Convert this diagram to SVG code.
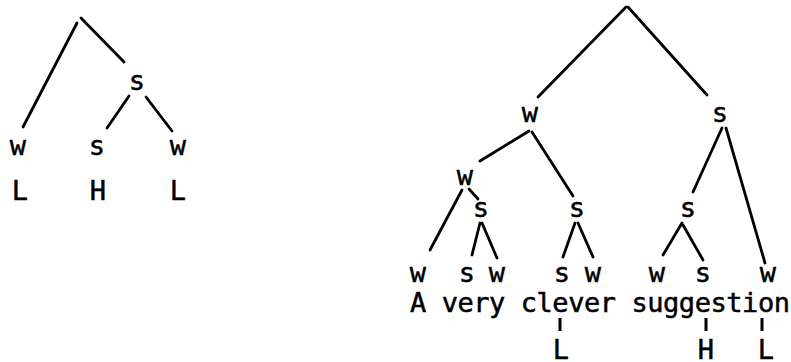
<svg xmlns="http://www.w3.org/2000/svg" width="791" height="362" viewBox="0 0 791 362">
<style>
text{font-family:"DejaVu Sans Mono","Liberation Mono",monospace;font-size:27px;fill:#000;stroke:#000;stroke-width:0.5;text-anchor:middle}
.e line{stroke:#000;stroke-width:2.8;stroke-linecap:round}
.t line{stroke:#000;stroke-width:3;stroke-linecap:butt}
</style>
<rect width="791" height="362" fill="#fff"/>
<g class="e" id="connectors">
<line x1="77" y1="23" x2="23" y2="127" stroke-width="3.2"/>
<line x1="81" y1="18" x2="124" y2="62"/>
<line x1="129" y1="96" x2="107" y2="128" stroke-width="3.8"/>
<line x1="146" y1="97" x2="172" y2="131"/>
<line x1="626" y1="7" x2="538" y2="97"/>
<line x1="628" y1="7" x2="707" y2="95"/>
<line x1="529" y1="131" x2="480" y2="161"/>
<line x1="532" y1="132" x2="573" y2="196"/>
<line x1="722" y1="128" x2="693" y2="192" stroke-width="3.4"/>
<line x1="726" y1="128" x2="765" y2="263"/>
<line x1="462" y1="190" x2="430" y2="250"/>
<line x1="469" y1="189" x2="478" y2="199"/>
<line x1="480" y1="223" x2="472" y2="255"/>
<line x1="482" y1="223" x2="497" y2="258"/>
<line x1="575" y1="223" x2="563" y2="257" stroke-width="3.2"/>
<line x1="578" y1="223" x2="593" y2="257"/>
<line x1="682" y1="223" x2="663" y2="255"/>
<line x1="683" y1="225" x2="703" y2="260"/>
</g>
<g class="t" id="ticks">
<line x1="560" y1="318" x2="560" y2="331"/>
<line x1="706" y1="318" x2="706" y2="331"/>
<line x1="762" y1="318" x2="762" y2="331"/>
</g>
<g id="left-tree">
<g id="l-s"><text x="137" y="90">s</text></g>
<g id="l-w1"><text x="18" y="155">w</text></g>
<g id="l-s2"><text x="97" y="155">s</text></g>
<g id="l-w2"><text x="178" y="155">w</text></g>
<g id="l-L1"><text x="20" y="200">L</text></g>
<g id="l-H"><text x="98" y="200">H</text></g>
<g id="l-L2"><text x="178" y="200">L</text></g>
</g>
<g id="right-tree">
<g id="r-w"><text x="530" y="122">w</text></g>
<g id="r-s"><text x="720" y="122">s</text></g>
<g id="r-ww"><text x="465" y="185">w</text></g>
<g id="r-ws"><text x="481" y="217">s</text></g>
<g id="r-ws2"><text x="577" y="217">s</text></g>
<g id="r-ss"><text x="688" y="217">s</text></g>
<g id="r-b1"><text x="418" y="282">w</text></g>
<g id="r-b2"><text x="467" y="282">s</text></g>
<g id="r-b3"><text x="497" y="282">w</text></g>
<g id="r-b4"><text x="562" y="282">s</text></g>
<g id="r-b5"><text x="593" y="282">w</text></g>
<g id="r-b6"><text x="657" y="282">w</text></g>
<g id="r-b7"><text x="703" y="282">s</text></g>
<g id="r-b8"><text x="768" y="282">w</text></g>
<g id="sentence"><text x="410" y="312" textLength="380" lengthAdjust="spacing" style="text-anchor:start">A very clever suggestion</text></g>
<g id="r-L1"><text x="561" y="359">L</text></g>
<g id="r-H"><text x="706" y="359">H</text></g>
<g id="r-L2"><text x="766" y="359">L</text></g>
</g>
</svg>
